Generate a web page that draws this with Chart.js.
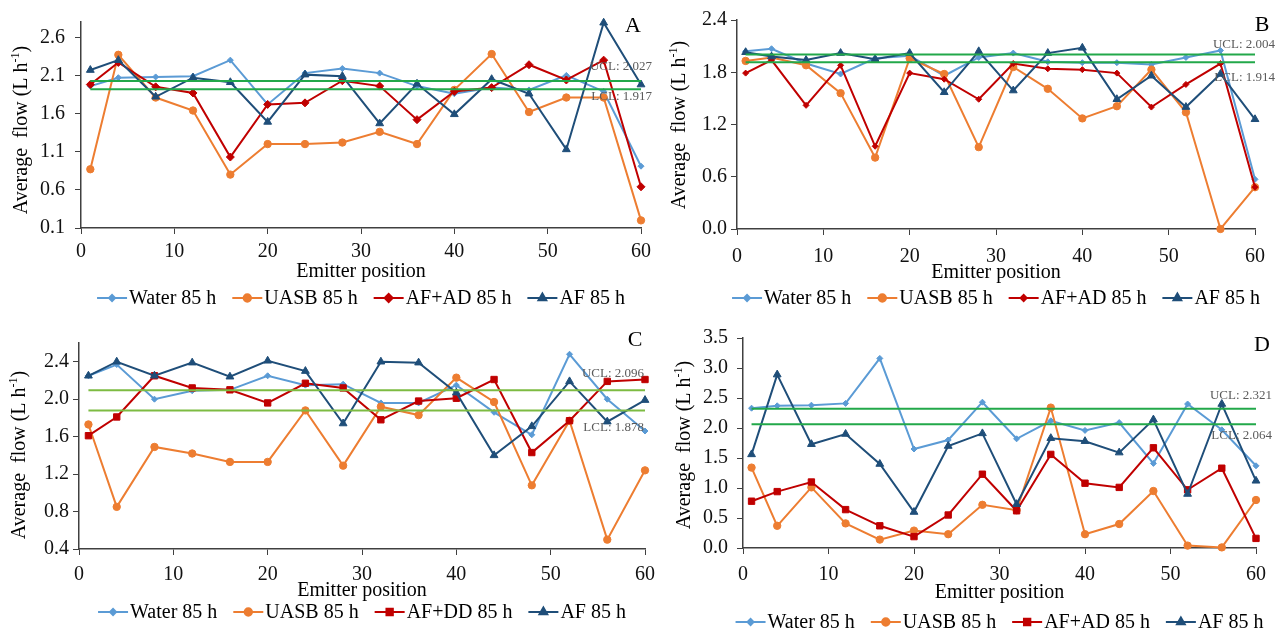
<!DOCTYPE html>
<html>
<head>
<meta charset="utf-8">
<script src="https://cdn.jsdelivr.net/npm/chart.js@4.4.1/dist/chart.umd.min.js"></script>
<style>
    html, body { margin: 0; padding: 0; background: #fff; }
    body { width: 1275px; height: 628px; position: relative; overflow: hidden; }
    canvas { position: absolute; }
</style>
</head>
<body>
<canvas id="chartA" width="665" height="314" style="left:0;top:0"></canvas>
<canvas id="chartB" width="610" height="314" style="left:665px;top:0"></canvas>
<canvas id="chartC" width="665" height="314" style="left:0;top:314px"></canvas>
<canvas id="chartD" width="610" height="314" style="left:665px;top:314px"></canvas>
<script>
// ========================================
// DATA
// ========================================
const emitterPos = [1, 4, 8, 12, 16, 20, 24, 28, 32, 36, 40, 44, 48, 52, 56, 60];
const xTicks = [0, 10, 20, 30, 40, 50, 60];

const namesABD = ['Water 85 h', 'UASB 85 h', 'AF+AD 85 h', 'AF 85 h'];
const namesC = ['Water 85 h', 'UASB 85 h', 'AF+DD 85 h', 'AF 85 h'];

// Panel A
const waterA = [1.96, 2.07, 2.08, 2.09, 2.30, 1.72, 2.13, 2.19, 2.13, 1.96, 1.86, 1.94, 1.91, 2.10, 1.89, 0.91];
const uasbA  = [0.87, 2.37, 1.81, 1.64, 0.80, 1.20, 1.20, 1.22, 1.36, 1.20, 1.91, 2.38, 1.62, 1.81, 1.81, 0.20];
const afadA  = [1.98, 2.27, 1.95, 1.87, 1.03, 1.72, 1.74, 2.03, 1.96, 1.52, 1.89, 1.94, 2.24, 2.04, 2.30, 0.64];
const afA    = [2.17, 2.30, 1.82, 2.07, 2.01, 1.49, 2.11, 2.09, 1.47, 1.99, 1.59, 2.05, 1.86, 1.13, 2.79, 1.98];
const limitsA = [2.027, 1.917];
const yTicksA = [0.1, 0.6, 1.1, 1.6, 2.1, 2.6];

// Panel B
const waterB = [2.04, 2.07, 1.90, 1.78, 1.96, 1.99, 1.76, 1.97, 2.02, 1.92, 1.91, 1.91, 1.89, 1.97, 2.05, 0.57];
const uasbB  = [1.93, 1.97, 1.88, 1.56, 0.82, 1.96, 1.78, 0.94, 1.86, 1.61, 1.27, 1.41, 1.83, 1.34, 0.00, 0.48];
const afadB  = [1.79, 1.94, 1.42, 1.88, 0.95, 1.79, 1.72, 1.49, 1.90, 1.84, 1.83, 1.79, 1.40, 1.66, 1.90, 0.48];
const afB    = [2.03, 1.98, 1.94, 2.02, 1.95, 2.02, 1.57, 2.04, 1.59, 2.02, 2.08, 1.49, 1.76, 1.40, 1.78, 1.26];
const limitsB = [2.004, 1.914];
const yTicksB = [0.0, 0.6, 1.2, 1.8, 2.4];

// Panel C
const waterC = [2.25, 2.37, 2.00, 2.09, 2.10, 2.25, 2.15, 2.16, 1.96, 1.96, 2.15, 1.86, 1.62, 2.48, 2.00, 1.66];
const uasbC  = [1.73, 0.85, 1.49, 1.42, 1.33, 1.33, 1.88, 1.29, 1.92, 1.83, 2.23, 1.97, 1.08, 1.77, 0.50, 1.24];
const afddC  = [1.61, 1.81, 2.25, 2.12, 2.10, 1.96, 2.17, 2.12, 1.78, 1.98, 2.01, 2.21, 1.43, 1.77, 2.19, 2.21];
const afC    = [2.25, 2.40, 2.25, 2.39, 2.24, 2.41, 2.30, 1.74, 2.40, 2.39, 2.07, 1.40, 1.71, 2.19, 1.76, 1.99];
const limitsC = [2.096, 1.878];
const yTicksC = [0.4, 0.8, 1.2, 1.6, 2.0, 2.4];

// Panel D
const waterD = [2.33, 2.37, 2.38, 2.41, 3.16, 1.65, 1.80, 2.43, 1.82, 2.12, 1.96, 2.09, 1.41, 2.40, 1.97, 1.37];
const uasbD  = [1.34, 0.37, 1.01, 0.41, 0.14, 0.29, 0.23, 0.72, 0.63, 2.34, 0.23, 0.40, 0.95, 0.04, 0.01, 0.80];
const afadD  = [0.78, 0.94, 1.10, 0.64, 0.37, 0.19, 0.55, 1.23, 0.62, 1.56, 1.08, 1.01, 1.67, 0.97, 1.33, 0.16];
const afD    = [1.56, 2.89, 1.73, 1.90, 1.40, 0.60, 1.70, 1.91, 0.73, 1.83, 1.78, 1.59, 2.14, 0.90, 2.40, 1.12];
const limitsD = [2.321, 2.064];
const yTicksD = [0.0, 0.5, 1.0, 1.5, 2.0, 2.5, 3.0, 3.5];

// ========================================
// STYLE
// ========================================
const FONT = '"Liberation Serif", "Times New Roman", serif';
const colors = ['#5b9bd5', '#ed7d31', '#c00000', '#1f4e79'];

function toPoints(values) {
    return values.map((v, i) => ({ x: emitterPos[i], y: v }));
}

function flatLine(v) {
    return [{ x: emitterPos[0], y: v }, { x: emitterPos[emitterPos.length - 1], y: v }];
}

// ========================================
// DECORATION PLUGIN (titles, limits, legend, panel letter)
// ========================================
const decorPlugin = {
    id: 'decor',
    afterDatasetsDraw(chart, args, opts) {
        const ctx = chart.ctx;
        const area = chart.chartArea;
        const yScale = chart.scales.y;
        ctx.save();

        // UCL / LCL labels
        ctx.font = '13px ' + FONT;
        ctx.fillStyle = '#5a5a5a';
        ctx.textAlign = 'right';
        ctx.textBaseline = 'middle';
        ctx.fillText('UCL: ' + opts.limits[0].toFixed(3), opts.limitRight, yScale.getPixelForValue(opts.limits[0]) + opts.limitShift[0]);
        ctx.fillText('LCL: ' + opts.limits[1].toFixed(3), opts.limitRight, yScale.getPixelForValue(opts.limits[1]) + opts.limitShift[1]);

        // panel letter
        ctx.font = '22px ' + FONT;
        ctx.fillStyle = '#000';
        ctx.textAlign = 'center';
        ctx.fillText(opts.letter, opts.letterPos[0], opts.letterPos[1]);

        // x axis title
        ctx.font = '20px ' + FONT;
        ctx.fillText('Emitter position', (area.left + area.right) / 2, opts.xTitleY);

        // y axis title with superscript
        ctx.save();
        ctx.translate(opts.yTitlePos[0], opts.yTitlePos[1]);
        ctx.rotate(-Math.PI / 2);
        const partA = 'Average  flow (L h';
        const partSup = '-1';
        const partB = ')';
        ctx.font = '20px ' + FONT;
        const wA = ctx.measureText(partA).width;
        const wB = ctx.measureText(partB).width;
        ctx.font = '12px ' + FONT;
        const wS = ctx.measureText(partSup).width;
        let x0 = -(wA + wS + wB) / 2;
        ctx.textAlign = 'left';
        ctx.font = '20px ' + FONT;
        ctx.fillText(partA, x0, 0);
        ctx.font = '12px ' + FONT;
        ctx.fillText(partSup, x0 + wA, -6);
        ctx.font = '20px ' + FONT;
        ctx.fillText(partB, x0 + wA + wS, 0);
        ctx.restore();

        // legend
        const items = chart.data.datasets.filter(ds => ds.inLegend);
        ctx.font = '20px ' + FONT;
        const sample = 30, gapText = 2, gapItem = 16;
        const widths = items.map(ds => ctx.measureText(ds.label).width);
        const total = widths.reduce((a, w) => a + sample + gapText + w, 0) + gapItem * (items.length - 1);
        let lx = (area.left + area.right) / 2 - total / 2;
        const ly = opts.legendY;
        items.forEach((ds, i) => {
            ctx.strokeStyle = ds.borderColor;
            ctx.lineWidth = 2;
            ctx.beginPath();
            ctx.moveTo(lx, ly);
            ctx.lineTo(lx + sample, ly);
            ctx.stroke();
            ctx.fillStyle = ds.borderColor;
            Chart.helpers.drawPoint(ctx, {
                pointStyle: ds.pointStyle,
                radius: ds.pointRadius,
                rotation: 0,
                borderWidth: 1
            }, lx + sample / 2, ly);
            ctx.fillStyle = '#000';
            ctx.textAlign = 'left';
            ctx.textBaseline = 'middle';
            ctx.fillText(ds.label, lx + sample + gapText, ly + 1);
            lx += sample + gapText + widths[i] + gapItem;
        });

        ctx.restore();
    }
};

// ========================================
// BUILD ONE PANEL
// ========================================
function buildPanel(id, p) {
    const series = [p.water, p.uasb, p.afad, p.af];
    const styles = ['rectRot', 'circle', p.afadStyle, 'triangle'];
    const radii = [3, 3.7, p.afadRadius, 4.5];

    const datasets = series.map((vals, i) => ({
        label: p.names[i],
        data: toPoints(vals),
        borderColor: colors[i],
        backgroundColor: colors[i],
        borderWidth: 2,
        pointStyle: styles[i],
        pointRadius: radii[i],
        pointBorderWidth: 1,
        clip: false,
        order: 5 - i,
        inLegend: true
    }));

    p.limits.forEach((v, i) => {
        datasets.push({
            label: i === 0 ? 'UCL' : 'LCL',
            data: flatLine(v),
            borderColor: p.limitColor,
            borderWidth: 2,
            pointRadius: 0,
            order: 0,
            inLegend: false
        });
    });

    const yTickValues = p.yTicks;

    new Chart(document.getElementById(id).getContext('2d'), {
        type: 'line',
        data: { datasets: datasets },
        plugins: [decorPlugin],
        options: {
            responsive: false,
            animation: false,
            devicePixelRatio: 1,
            layout: {
                autoPadding: false,
                padding: { left: 0, top: p.padTop, right: p.padRight, bottom: 0 }
            },
            plugins: {
                legend: { display: false },
                tooltip: { enabled: false },
                decor: {
                    limits: p.limits,
                    limitRight: p.limitRight,
                    limitShift: p.limitShift,
                    letter: p.letter,
                    letterPos: p.letterPos,
                    xTitleY: p.xTitleY,
                    yTitlePos: p.yTitlePos,
                    legendY: p.legendY
                }
            },
            scales: {
                x: {
                    type: 'linear',
                    min: 0,
                    max: 60,
                    afterFit: s => { s.height = p.xAxisH; },
                    afterBuildTicks: s => { s.ticks = xTicks.map(v => ({ value: v })); },
                    grid: { drawOnChartArea: false, drawTicks: true, tickLength: 6, color: '#404040' },
                    border: { display: true, color: '#404040', width: 1.5 },
                    ticks: {
                        color: '#111',
                        font: { family: FONT, size: 20 },
                        padding: p.xPad,
                        maxRotation: 0
                    }
                },
                y: {
                    type: 'linear',
                    min: p.yMin,
                    max: p.yMax,
                    afterFit: s => { s.width = p.yAxisW; },
                    afterBuildTicks: s => { s.ticks = yTickValues.map(v => ({ value: v })); },
                    grid: { drawOnChartArea: false, drawTicks: true, tickLength: 6, color: '#404040' },
                    border: { display: true, color: '#404040', width: 1.5 },
                    ticks: {
                        color: '#111',
                        font: { family: FONT, size: 20 },
                        padding: p.yPad,
                        callback: v => v.toFixed(1)
                    }
                }
            }
        }
    });
}

document.addEventListener('DOMContentLoaded', function() {

    buildPanel('chartA', {
        names: namesABD, water: waterA, uasb: uasbA, afad: afadA, af: afA,
        afadStyle: 'rectRot', afadRadius: 4,
        limits: limitsA, limitColor: '#22a84a', limitRight: 652, limitShift: [-14, 7],
        yTicks: yTicksA, yMin: 0.1, yMax: 2.8,
        yAxisW: 81, padTop: 15, padRight: 24, xAxisH: 86, xPad: 6, yPad: 10,
        letter: 'A', letterPos: [633, 26], xTitleY: 272, yTitlePos: [22, 130], legendY: 298
    });

    buildPanel('chartB', {
        names: namesABD, water: waterB, uasb: uasbB, afad: afadB, af: afB,
        afadStyle: 'rectRot', afadRadius: 3,
        limits: limitsB, limitColor: '#22a84a', limitRight: 610, limitShift: [-10, 15],
        yTicks: yTicksB, yMin: 0, yMax: 2.4,
        yAxisW: 72, padTop: 20, padRight: 16, xAxisH: 85, xPad: 10, yPad: 4,
        letter: 'B', letterPos: [597, 25], xTitleY: 273, yTitlePos: [15, 125], legendY: 298
    });

    buildPanel('chartC', {
        names: namesC, water: waterC, uasb: uasbC, afad: afddC, af: afC,
        afadStyle: 'rect', afadRadius: 4.5,
        limits: limitsC, limitColor: '#7dbb42', limitRight: 644, limitShift: [-17, 17],
        yTicks: yTicksC, yMin: 0.4, yMax: 2.6,
        yAxisW: 79, padTop: 29, padRight: 20, xAxisH: 79, xPad: 8, yPad: 4,
        letter: 'C', letterPos: [635, 26], xTitleY: 277, yTitlePos: [20, 141], legendY: 298
    });

    buildPanel('chartD', {
        names: namesABD, water: waterD, uasb: uasbD, afad: afadD, af: afD,
        afadStyle: 'rect', afadRadius: 4.5,
        limits: limitsD, limitColor: '#22a84a', limitRight: 607, limitShift: [-13, 11],
        yTicks: yTicksD, yMin: 0, yMax: 3.5,
        yAxisW: 78, padTop: 24, padRight: 16, xAxisH: 80, xPad: 9, yPad: 9,
        letter: 'D', letterPos: [597, 31], xTitleY: 279, yTitlePos: [20, 131], legendY: 308
    });
});
</script>
</body>
</html>
